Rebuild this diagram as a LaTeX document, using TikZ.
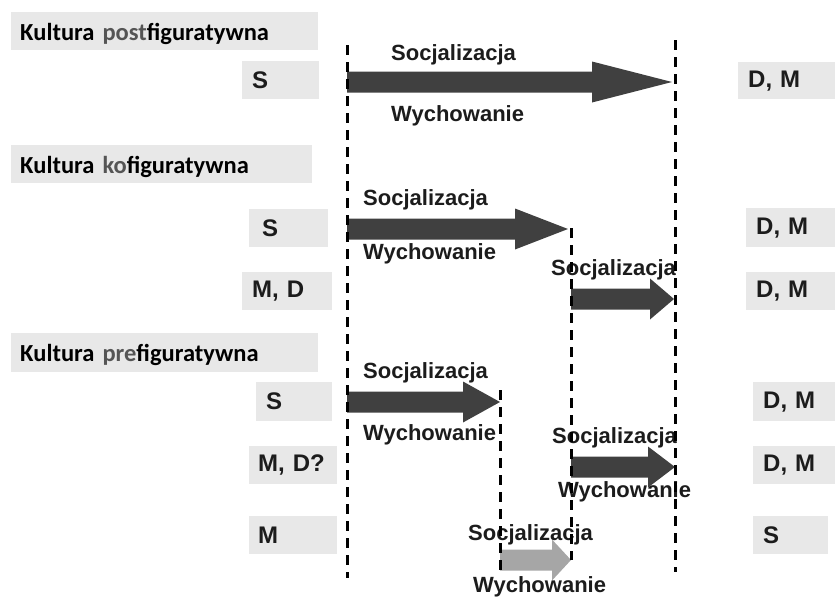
\documentclass[tikz,border=0pt]{standalone}
\usepackage{fontspec}
\setmainfont{Liberation Sans}
\newfontfamily\calfont{Carlito}
\usetikzlibrary{calc}
\definecolor{boxgray}{RGB}{232,232,232}
\definecolor{arrdark}{RGB}{64,64,64}
\definecolor{arrlight}{RGB}{166,166,166}
\definecolor{txtgray}{RGB}{85,85,85}
\definecolor{txt}{RGB}{28,28,28}
\newcommand\fatarrow[4]{\fill[#4] let \p1=(#1), \p2=(#2) in (\x1,\y1+10.5pt) -- (\x2-#3,\y1+10.5pt) -- (\x2-#3,\y1+20.5pt) -- (\x2,\y1) -- (\x2-#3,\y1-20.5pt) -- (\x2-#3,\y1-10.5pt) -- (\x1,\y1-10.5pt) -- cycle;}
\tikzset{
  lblbox/.style={fill=boxgray, anchor=north west, inner xsep=10pt, inner ysep=0pt, align=left, text=txt, font=\bfseries\fontsize{24}{27}\selectfont},
  titlebox/.style={fill=boxgray, anchor=north west, inner xsep=9pt, inner ysep=0pt, align=left, text=black, text height=28pt, text depth=10pt, font=\calfont\bfseries\fontsize{24.5}{28}\selectfont},
  lab/.style={anchor=base west, inner sep=0pt, text=txt, font=\bfseries\fontsize{22}{25}\selectfont},
  dline/.style={line width=3pt, dash pattern=on 10pt off 7pt, black},
  arrd/.style={fill=arrdark},
  arrl/.style={fill=arrlight}
}
\begin{document}
\begin{tikzpicture}[x=1pt,y=-1pt]
\useasboundingbox (0,0) rectangle (835,597);
% section 1
\node[titlebox, text width=289pt] (t1) at (11,12) {Kultura \textcolor{txtgray}{post}figuratywna};
\node[lblbox, text width=57pt, minimum height=38pt] (s1) at (242,61) {S};
\node[lblbox, text width=77pt, minimum height=37pt] (dm1) at (738,62) {D, M};
% section 2
\node[titlebox, text width=283pt] (t2) at (11,145) {Kultura \textcolor{txtgray}{ko}figuratywna};
\node[lblbox, text width=53pt, minimum height=38pt, inner xsep=13pt] (s2) at (249,209) {S};
\node[lblbox, text width=70pt, minimum height=38pt] (md2) at (242,272) {M, D};
\node[lblbox, text width=69pt, minimum height=39pt] (dm2a) at (746,208) {D, M};
\node[lblbox, text width=69pt, minimum height=38pt] (dm2b) at (746,272) {D, M};
% section 3
\node[titlebox, text width=289pt, text depth=11pt] (t3) at (11,333) {Kultura \textcolor{txtgray}{pre}figuratywna};
\node[lblbox, text width=56pt, minimum height=39pt] (s3) at (256,382) {S};
\node[lblbox, text width=70pt, minimum height=38pt, inner xsep=9pt] (md3) at (249,446) {M, D?};
\node[lblbox, text width=70pt, minimum height=38pt, inner xsep=9pt] (m3) at (249,516) {M};
\node[lblbox, text width=62pt, minimum height=39pt] (dm3a) at (753,382) {D, M};
\node[lblbox, text width=62pt, minimum height=38pt] (dm3b) at (753,446) {D, M};
\node[lblbox, text width=55pt, minimum height=38pt] (s3r) at (753,516) {S};
% arrow coordinates
\coordinate (a1s) at (347,82);  \coordinate (a1e) at (672,82);
\coordinate (a2s) at (347,229); \coordinate (a2e) at (568,229);
\coordinate (a3s) at (571,299); \coordinate (a3e) at (674,299);
\coordinate (a4s) at (347,402); \coordinate (a4e) at (500,402);
\coordinate (a5s) at (571,467); \coordinate (a5e) at (675,467);
\coordinate (a6s) at (500,560); \coordinate (a6e) at (571,560);
\fatarrow{a1s}{a1e}{80pt}{arrd}
\fatarrow{a2s}{a2e}{53pt}{arrd}
\fatarrow{a3s}{a3e}{24pt}{arrd}
\fatarrow{a4s}{a4e}{37pt}{arrd}
\fatarrow{a5s}{a5e}{27pt}{arrd}
\fatarrow{a6s}{a6e}{19pt}{arrl}
% labels
\node[lab] (soc1) at (391,60) {Socjalizacja};
\node[lab] (wych1) at (391,121) {Wychowanie};
\node[lab] (soc2) at (363,205) {Socjalizacja};
\node[lab] (wych2) at (363,259) {Wychowanie};
\node[lab] (soc3) at (551,275) {Socjalizacja};
\node[lab] (soc4) at (363,378) {Socjalizacja};
\node[lab] (wych4) at (363,440) {Wychowanie};
\node[lab] (soc5) at (552,443) {Socjalizacja};
\node[lab] (wych5) at (558,497) {Wychowanie};
\node[lab] (soc6) at (468,540) {Socjalizacja};
\node[lab] (wych6) at (473,592) {Wychowanie};
% dashed lines
\coordinate (l1t) at (347,45);  \coordinate (l1b) at (347,578);
\coordinate (l2t) at (571,228); \coordinate (l2b) at (571,560);
\coordinate (l3t) at (500,390); \coordinate (l3b) at (500,575);
\coordinate (l4t) at (675,40);  \coordinate (l4b) at (675,572);
\draw[dline] (l1t) -- (l1b);
\draw[dline] (l2t) -- (l2b);
\draw[dline] (l3t) -- (l3b);
\draw[dline] (l4t) -- (l4b);
\end{tikzpicture}
\end{document}
